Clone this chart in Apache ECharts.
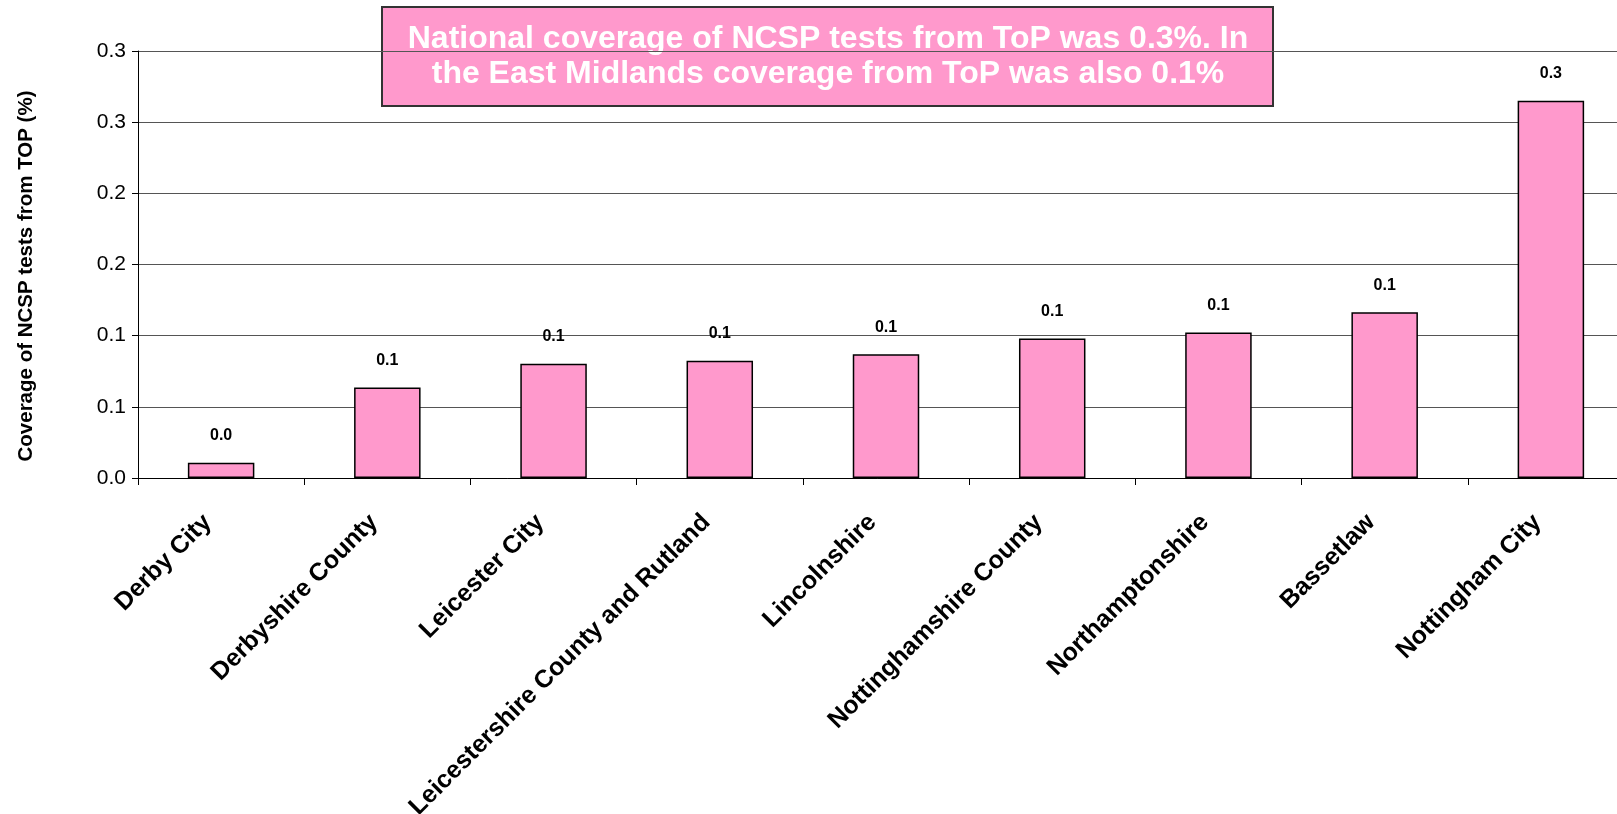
<!DOCTYPE html>
<html>
<head>
<meta charset="utf-8">
<script src="https://cdn.jsdelivr.net/npm/echarts@6/dist/echarts.min.js"></script>
<style>
html,body{margin:0;padding:0;background:#fff;}
#chart{width:1617px;height:814px;}
</style>
</head>
<body>
<div id="chart"></div>
<script>
var categories = ['Derby City','Derbyshire County','Leicester City','Leicestershire County and Rutland','Lincolnshire','Nottinghamshire County','Northamptonshire','Bassetlaw','Nottingham City'];
var coverage = [0.0108, 0.0635, 0.0803, 0.0824, 0.0870, 0.0980, 0.1022, 0.1165, 0.2650];
var yTickLabels = ['0.0','0.1','0.1','0.2','0.2','0.3','0.3'];
var yAxisTitle = 'Coverage of NCSP tests from TOP (%)';
var noteLines = ['National coverage of NCSP tests from ToP was 0.3%. In', 'the East Midlands coverage from ToP was also 0.1%'];

var FONT = '"Liberation Sans", Arial, sans-serif';
var chart = echarts.init(document.getElementById('chart'), null, {renderer:'canvas'});
chart.setOption({
  animation: false,
  backgroundColor: '#ffffff',
  grid: {left: 138, width: 1496, top: 51, height: 427, containLabel: false, outerBoundsMode: 'none'},
  xAxis: {
    type: 'category',
    data: categories,
    axisLine: {show: true, lineStyle: {color: '#000', width: 1}},
    axisTick: {show: true, length: 7, lineStyle: {color: '#000'}},
    axisLabel: {
      interval: 0, rotate: 45, margin: 27, padding: [0, 19, 0, 0],
      fontFamily: FONT, fontSize: 25, fontWeight: 'bold', color: '#000'
    }
  },
  yAxis: {
    type: 'value',
    min: 0, max: 0.3, interval: 0.05,
    name: yAxisTitle,
    nameLocation: 'middle',
    nameGap: 101,
    nameTextStyle: {fontFamily: FONT, fontSize: 20.5, fontWeight: 'bold', color: '#000', padding: [0, 23, 0, 0]},
    axisLine: {show: true, lineStyle: {color: '#000', width: 1}},
    axisTick: {show: true, length: 6, lineStyle: {color: '#000'}},
    axisLabel: {
      margin: 12, fontFamily: FONT, fontSize: 21, color: '#000',
      formatter: function (v) { return yTickLabels[Math.round(v / 0.05)]; }
    },
    splitLine: {show: true, lineStyle: {color: '#555', width: 1}}
  },
  series: [{
    type: 'bar',
    data: coverage,
    barWidth: '40%',
    itemStyle: {color: '#FF99CC', borderColor: '#000', borderWidth: 1.5},
    label: {
      show: true, position: 'top', distance: 19,
      fontFamily: FONT, fontSize: 16, fontWeight: 'bold', color: '#000',
      formatter: function (p) { return (Math.round(p.value * 10) / 10).toFixed(1); }
    }
  }],
  graphic: [{
    type: 'group', z: 100,
    children: [{
      type: 'rect',
      shape: {x: 382, y: 7, width: 891, height: 99},
      style: {fill: '#FF99CC', stroke: '#333', lineWidth: 2}
    }, {
      type: 'text',
      x: 828, y: 57,
      style: {
        text: noteLines.join('\n'),
        fill: '#fff', font: 'bold 32px ' + FONT,
        align: 'center', verticalAlign: 'middle', lineHeight: 35
      }
    }]
  }]
});
</script>
</body>
</html>
